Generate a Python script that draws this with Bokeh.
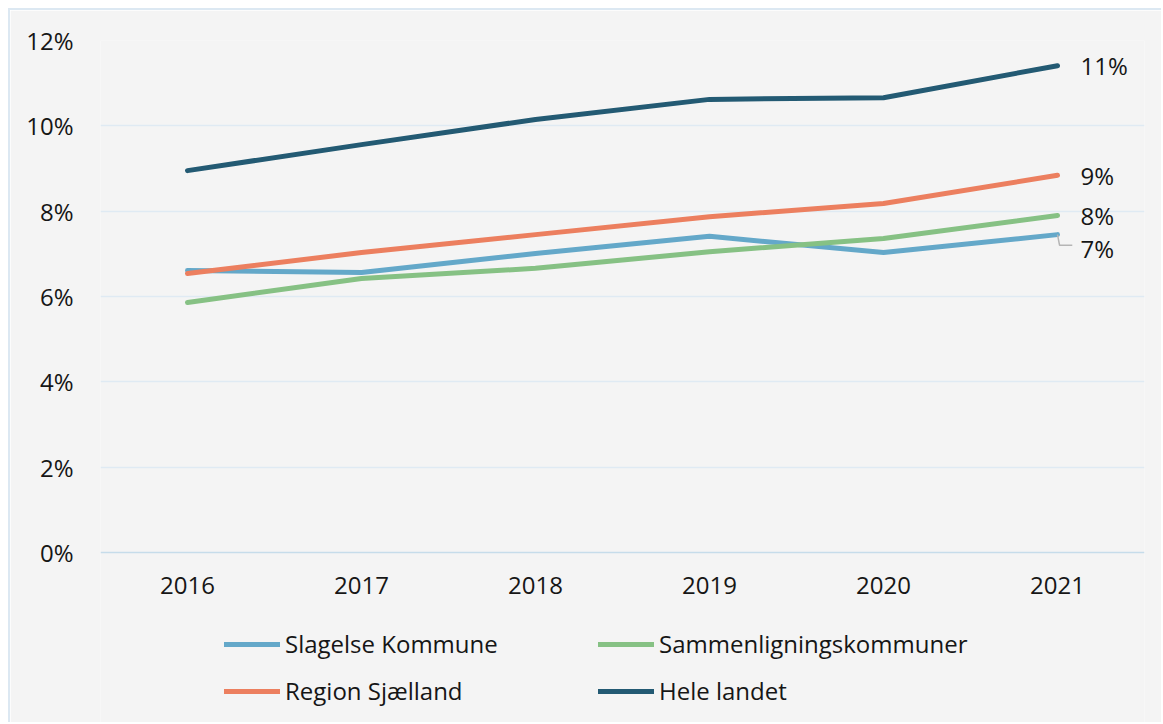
from bokeh.plotting import figure
from bokeh.models import Range1d, FixedTicker, Legend, LegendItem, Span
from bokeh.core.properties import value
from bokeh.embed import file_html
from bokeh.resources import INLINE

years = ["2016", "2017", "2018", "2019", "2020", "2021"]
slagelse = [6.61, 6.56, 7.01, 7.41, 7.03, 7.45]
sammenligning = [5.86, 6.42, 6.66, 7.05, 7.36, 7.90]
region = [6.54, 7.03, 7.45, 7.87, 8.18, 8.84]
hele = [8.95, 9.56, 10.15, 10.62, 10.66, 11.41]

names = ["Slagelse Kommune", "Sammenligningskommuner", "Region Sjælland", "Hele landet"]
series = [slagelse, sammenligning, region, hele]
colors = ["#64a8c9", "#86c184", "#ec7f5f", "#235a73"]
end_labels = ["7%", "8%", "9%", "11%"]
y_ticks = [0, 2, 4, 6, 8, 10, 12]

FONT = "Open Sans"
TXT = "#161616"
FS = "24px"

xs = list(range(len(years)))

# plot area reaches down to the page bottom so the year labels and legend live in it
PX_PER_UNIT = 512 / 12.0
y_bottom = -172 / PX_PER_UNIT

p = figure(width=1153, height=714, output_backend="svg", toolbar_location=None,
           x_range=Range1d(-0.5, len(years) - 0.5), y_range=Range1d(y_bottom, 12),
           min_border_left=90, min_border_right=19, min_border_top=30, min_border_bottom=0)
p.styles = {"margin-left": "8px", "margin-top": "8px",
            "border-left": "2px solid #dce8f2", "border-top": "2px solid #dce8f2"}
p.background_fill_color = "#f4f4f4"
p.border_fill_color = "#f4f4f4"
p.outline_line_color = None

p.xgrid.grid_line_color = None
p.ygrid.grid_line_color = "#dfeaf3"
p.ygrid.grid_line_width = 1.5
p.ygrid.ticker = FixedTicker(ticks=y_ticks[1:])

p.xaxis.visible = False

p.yaxis.ticker = FixedTicker(ticks=y_ticks)
p.yaxis.major_label_overrides = {t: f"{t}%" for t in y_ticks}
p.yaxis.axis_line_color = None
p.yaxis.major_tick_line_color = None
p.yaxis.minor_tick_line_color = None
p.yaxis.major_tick_out = 0
p.yaxis.major_label_standoff = 27
p.yaxis.major_label_text_font = FONT
p.yaxis.major_label_text_font_size = FS
p.yaxis.major_label_text_color = TXT

# x-axis baseline and year labels
p.add_layout(Span(location=0, dimension="width", line_color="#c6dcea", line_width=1.5))
p.text(x=xs, y=[0] * len(xs), text=years, y_offset=33,
       text_font=value(FONT), text_font_size=FS, text_color=TXT,
       text_baseline="middle", text_align="center")

renderers = []
for name, vals, col in zip(names, series, colors):
    r = p.line(xs, vals, line_color=col, line_width=5, line_cap="round", line_join="round")
    renderers.append(r)

# end labels
last_x = xs[-1]
for vals, lab in zip(series, end_labels):
    yoff = 14 if lab == "7%" else 0
    p.text(x=[last_x], y=[vals[-1]], text=[lab], x_offset=23, y_offset=yoff,
           text_font=value(FONT), text_font_size=FS, text_color=TXT,
           text_baseline="middle", text_align="left")

# leader line for the Slagelse label
v = slagelse[-1]
p.line([last_x, last_x + 0.012, last_x + 0.085], [v, v - 0.25, v - 0.25],
       line_color="#b5b5b5", line_width=1.5)

legend = Legend(items=[LegendItem(label=n, renderers=[r]) for n, r in zip(names, renderers)],
                location=(124, 17), orientation="horizontal", ncols=2)
legend.background_fill_alpha = 0
legend.border_line_color = None
legend.padding = 0
legend.margin = 0
legend.spacing = 14
legend.glyph_width = 56
legend.glyph_height = 24
legend.label_height = 24
legend.label_width = 299
legend.label_standoff = 5
legend.label_text_font = FONT
legend.label_text_font_size = FS
legend.label_text_color = TXT
legend.label_text_baseline = "middle"
p.add_layout(legend, "center")

open("out.html", "w").write(file_html(p, INLINE))
